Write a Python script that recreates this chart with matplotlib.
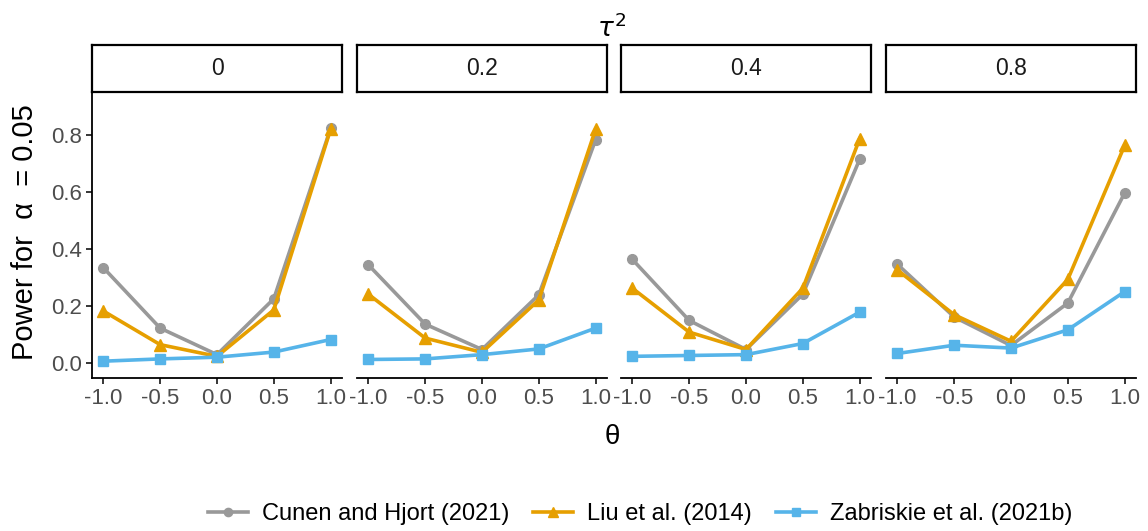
import numpy as np
import matplotlib.pyplot as plt

plt.rcParams['font.family'] = ['Liberation Sans', 'DejaVu Sans']
plt.rcParams['mathtext.fontset'] = 'dejavusans'

# data
theta = [-1.0, -0.5, 0.0, 0.5, 1.0]
tau2 = ['0', '0.2', '0.4', '0.8']

cunen = [
    [0.334, 0.122, 0.029, 0.225, 0.823],
    [0.344, 0.136, 0.047, 0.239, 0.783],
    [0.363, 0.149, 0.047, 0.241, 0.714],
    [0.346, 0.161, 0.061, 0.210, 0.596],
]
liu = [
    [0.182, 0.064, 0.023, 0.186, 0.820],
    [0.241, 0.087, 0.037, 0.221, 0.820],
    [0.262, 0.108, 0.047, 0.262, 0.786],
    [0.326, 0.169, 0.076, 0.293, 0.763],
]
zab = [
    [0.006, 0.014, 0.020, 0.038, 0.082],
    [0.012, 0.014, 0.029, 0.049, 0.122],
    [0.023, 0.026, 0.029, 0.068, 0.178],
    [0.033, 0.062, 0.052, 0.116, 0.250],
]

series = [
    ('Cunen and Hjort (2021)', cunen, '#999999', 'o', 7),
    ('Liu et al. (2014)', liu, '#E69F00', '^', 9),
    ('Zabriskie et al. (2021b)', zab, '#56B4E9', 's', 7),
]

W, H = 1148, 531
fig = plt.figure(figsize=(W / 100, H / 100), dpi=100)

lefts = [92, 357, 621, 886]
pw = 250
top, bottom = 93, 378
strip_top = 44

for i, lab in enumerate(tau2):
    x0 = lefts[i]
    ax = fig.add_axes([x0 / W, (H - bottom) / H, pw / W, (bottom - top) / H])
    for name, vals, col, mk, ms in series:
        ax.plot(theta, vals[i], color=col, marker=mk, markersize=ms,
                linewidth=2.6, label=name)
    ax.set_xlim(-1.1, 1.1)
    ax.set_ylim(-0.053, 0.947)
    ax.set_xticks(theta)
    ax.set_xticklabels(['-1.0', '-0.5', '0.0', '0.5', '1.0'])
    ax.set_yticks([0.0, 0.2, 0.4, 0.6, 0.8])
    ax.set_yticklabels(['0.0', '0.2', '0.4', '0.6', '0.8'])
    for s in ['top', 'right']:
        ax.spines[s].set_visible(False)
    ax.spines['bottom'].set_linewidth(1.3)
    ax.spines['left'].set_linewidth(1.3)
    ax.tick_params(axis='both', labelsize=16, labelcolor='#4D4D4D',
                   length=4, width=1.1, pad=3)
    if i > 0:
        ax.spines['left'].set_visible(False)
        ax.tick_params(axis='y', left=False, labelleft=False)
    ax.patch.set_alpha(0)

    # strip
    sx = fig.add_axes([x0 / W, (H - top + 1) / H, pw / W, (top - strip_top - 2) / H])
    sx.set_xticks([])
    sx.set_yticks([])
    for s in sx.spines.values():
        s.set_linewidth(1.6)
    sx.text(0.5, 0.5, lab, ha='center', va='center', fontsize=16.5,
            color='#1A1A1A', transform=sx.transAxes)

fig.text(612 / W, 1 - 28 / H, r'$\tau^2$', ha='center', va='center', fontsize=19)
fig.text(612 / W, 1 - 437 / H, 'θ', ha='center', va='center', fontsize=20)
fig.text(25 / W, 1 - 232 / H, 'Power for  α  = 0.05', ha='center', va='center',
         rotation=90, fontsize=21)

handles, labels = ax.get_legend_handles_labels()
fig.legend(handles, labels, loc='center', bbox_to_anchor=(640 / W, 1 - 514 / H),
           ncol=3, frameon=False, fontsize=17, handlelength=1.7,
           columnspacing=1.0, handletextpad=0.6, markerscale=0.85)

fig.savefig('out.png', dpi=100)
